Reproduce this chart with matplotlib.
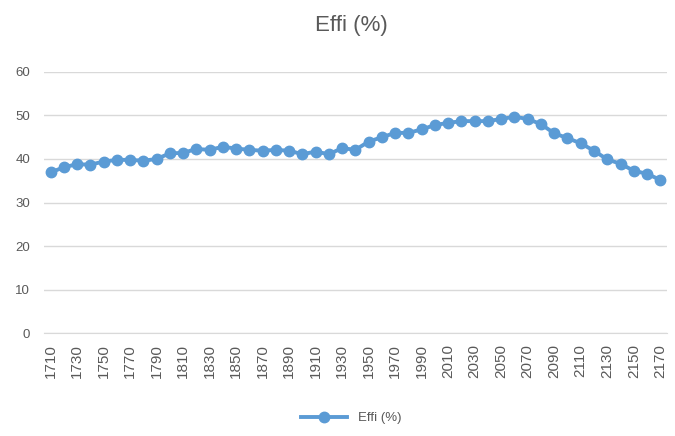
import matplotlib
matplotlib.use("Agg")
import matplotlib.pyplot as plt
import numpy as np

plt.rcParams['font.family'] = ['Liberation Sans', 'DejaVu Sans']

# data
years = list(range(1710, 2180, 10))
effi = [36.9, 38.1, 38.8, 38.7, 39.4, 39.8, 39.8, 39.6, 40.0, 41.3,
        41.4, 42.3, 42.1, 42.8, 42.4, 42.1, 41.9, 42.1, 41.9, 41.1,
        41.7, 41.1, 42.5, 42.1, 44.0, 45.0, 46.0, 46.0, 46.8, 47.8,
        48.3, 48.7, 48.7, 48.7, 49.2, 49.7, 49.2, 48.0, 45.9, 44.8,
        43.6, 41.9, 39.9, 38.9, 37.3, 36.6, 35.2]
yticks = [0, 10, 20, 30, 40, 50, 60]
series_name = 'Effi (%)'

text_col = '#595959'
line_col = '#5B9BD5'

fig = plt.figure(figsize=(6.75, 4.36), dpi=100)
ax = fig.add_axes([0.065, 0.236, 0.923, 0.599])

ax.plot(years, effi, color=line_col, linewidth=2.8, marker='o',
        markersize=7.5, label=series_name, zorder=3)

ax.set_xlim(years[0] - 5, years[-1] + 5)
ax.set_ylim(0, 60)
ax.set_yticks(yticks)
ax.set_xticks(years[::2])
ax.set_xticklabels([str(y) for y in years[::2]], rotation=90)
ax.grid(axis='y', color='#d9d9d9', linewidth=1)
ax.set_axisbelow(True)
for s in ax.spines.values():
    s.set_visible(False)
ax.spines['bottom'].set_visible(True)
ax.spines['bottom'].set_color('#d9d9d9')
ax.tick_params(axis='both', length=0, colors=text_col, labelsize=9.5)
ax.tick_params(axis='x', pad=8, labelsize=11)
ax.tick_params(axis='y', pad=10)

fig.suptitle(series_name, x=0.52, y=0.965, fontsize=16, color=text_col)
fig.legend(loc='lower center', bbox_to_anchor=(0.52, 0.0), frameon=False,
           fontsize=9.5, labelcolor=text_col, handlelength=3.5)

fig.savefig('out.png', dpi=100)
